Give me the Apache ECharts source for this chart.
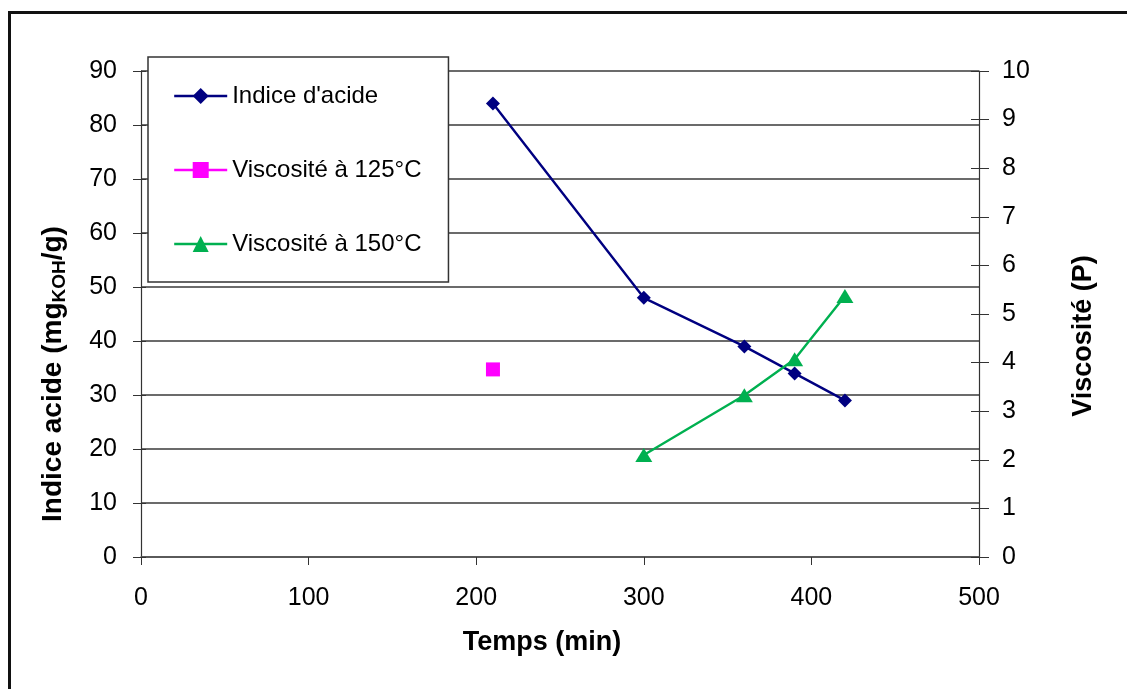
<!DOCTYPE html>
<html>
<head>
<meta charset="utf-8">
<script src="https://cdn.jsdelivr.net/npm/echarts@6/dist/echarts.min.js"></script>
<style>
html,body{margin:0;padding:0;background:#fff;}
#chart{width:1127px;height:689px;}
</style>
</head>
<body>
<div id="chart"></div>
<script>
// ---- data ----
const seriesNames = ["Indice d'acide", "Viscosité à 125°C", "Viscosité à 150°C"];
const acidTimes = [210, 300, 360, 390, 420];
const acidValues = [84, 48, 39, 34, 29];
const visc125Times = [210];
const visc125Values = [3.86];
const visc150Times = [300, 360, 390, 420];
const visc150Values = [2.1, 3.33, 4.07, 5.37];
const xTicks = { min: 0, max: 500, interval: 100 };
const yLeftTicks = { min: 0, max: 90, interval: 10 };
const yRightTicks = { min: 0, max: 10, interval: 1 };
const xTitle = 'Temps (min)';
const yRightTitle = 'Viscosité (P)';

const pairs = (xs, ys) => xs.map((x, i) => [x, ys[i]]);
const FONT = "'Liberation Sans', Arial, sans-serif";
const AXC = '#333';

const chart = echarts.init(document.getElementById('chart'), null, { renderer: 'canvas' });
const option = {
  animation: false,
  backgroundColor: '#fff',
  textStyle: { fontFamily: FONT },
  grid: { left: 141, right: 148, top: 71, bottom: 132, containLabel: false },
  legend: {
    orient: 'vertical',
    left: 148, top: 57,
    padding: [27, 27, 26, 25],
    itemWidth: 53, itemHeight: 20, itemGap: 50,
    backgroundColor: '#fff',
    borderColor: '#333', borderWidth: 1.5,
    lineStyle: { width: 2.4 },
    textStyle: { fontSize: 24, color: '#000', fontFamily: FONT },
    data: seriesNames
  },
  xAxis: [{
    type: 'value', min: xTicks.min, max: xTicks.max, interval: xTicks.interval,
    axisLine: { show: true, onZero: false, lineStyle: { color: '#555', width: 1.5 } },
    axisTick: { show: true, inside: false, length: 8, lineStyle: { color: AXC } },
    axisLabel: { fontSize: 25, color: '#000', margin: 29, fontFamily: FONT },
    splitLine: { show: false }
  }],
  yAxis: [{
    type: 'value', position: 'left', min: yLeftTicks.min, max: yLeftTicks.max, interval: yLeftTicks.interval,
    axisLine: { show: true, lineStyle: { color: AXC, width: 1.2 } },
    axisTick: { show: true, length: 8, lineStyle: { color: AXC } },
    axisLabel: { fontSize: 25, color: '#000', margin: 24, fontFamily: FONT },
    splitLine: { show: true, lineStyle: { color: '#3a3a3a', width: 1.5 } }
  }, {
    type: 'value', position: 'right', min: yRightTicks.min, max: yRightTicks.max, interval: yRightTicks.interval,
    axisLine: { show: true, lineStyle: { color: AXC, width: 1.2 } },
    axisTick: { show: true, length: 10, lineStyle: { color: AXC } },
    axisLabel: { fontSize: 25, color: '#000', margin: 23, fontFamily: FONT },
    splitLine: { show: false }
  }, {
    type: 'value', position: 'left', min: yLeftTicks.min, max: yLeftTicks.max, interval: yLeftTicks.interval,
    axisLine: { show: false },
    axisTick: { show: true, inside: true, length: 5, lineStyle: { color: AXC } },
    axisLabel: { show: false }, splitLine: { show: false }
  }, {
    type: 'value', position: 'right', min: yRightTicks.min, max: yRightTicks.max, interval: yRightTicks.interval,
    axisLine: { show: false },
    axisTick: { show: true, inside: true, length: 8, lineStyle: { color: AXC } },
    axisLabel: { show: false }, splitLine: { show: false }
  }],
  graphic: [{
    type: 'rect', silent: true, z: -10,
    shape: { x: 9.5, y: 12.5, width: 1300, height: 900 },
    style: { fill: 'none', stroke: '#111', lineWidth: 3 }
  }, {
    type: 'text', x: 542, y: 643, silent: true,
    style: { text: xTitle, font: "bold 27px " + FONT, fill: '#000', align: 'center', verticalAlign: 'middle' }
  }, {
    type: 'text', x: 53, y: 374, rotation: Math.PI / 2, silent: true,
    style: {
      text: '{b|Indice acide (mg}{s|KOH}{b|/g)}',
      align: 'center', verticalAlign: 'middle',
      rich: {
        b: { fontSize: 28, fontWeight: 'bold', fontFamily: FONT, fill: '#000', lineHeight: 32 },
        s: { fontSize: 19, fontWeight: 'bold', fontFamily: FONT, fill: '#000', lineHeight: 23, verticalAlign: 'bottom' }
      }
    }
  }, {
    type: 'text', x: 1084, y: 336, rotation: Math.PI / 2, silent: true,
    style: { text: yRightTitle, font: "bold 27px " + FONT, fill: '#000', align: 'center', verticalAlign: 'middle' }
  }],
  series: [{
    name: seriesNames[0], type: 'line', xAxisIndex: 0, yAxisIndex: 0,
    data: pairs(acidTimes, acidValues),
    symbol: 'diamond', symbolSize: 14,
    itemStyle: { color: '#000080' },
    lineStyle: { color: '#000080', width: 2.4 }
  }, {
    name: seriesNames[1], type: 'line', xAxisIndex: 0, yAxisIndex: 1,
    data: pairs(visc125Times, visc125Values),
    symbol: 'rect', symbolSize: 14,
    itemStyle: { color: '#FF00FF' },
    lineStyle: { color: '#FF00FF', width: 2.4 }
  }, {
    name: seriesNames[2], type: 'line', xAxisIndex: 0, yAxisIndex: 1,
    data: pairs(visc150Times, visc150Values),
    symbol: 'triangle', symbolSize: [17, 14],
    itemStyle: { color: '#00B050' },
    lineStyle: { color: '#00B050', width: 2.4 }
  }]
};
chart.setOption(option);
</script>
</body>
</html>
